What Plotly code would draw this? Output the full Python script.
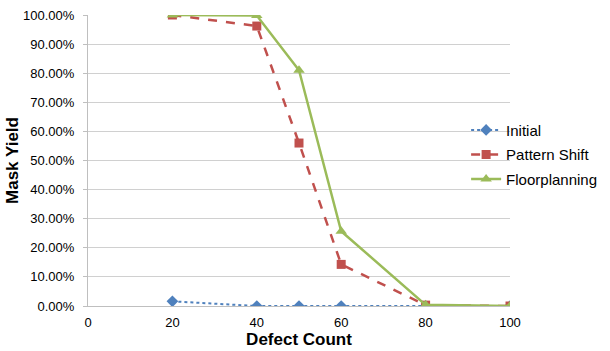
import plotly.graph_objects as go

defect_count = [20, 40, 50, 60, 80, 100]
initial = [0.016, 0.0, 0.0, 0.0, 0.0, 0.0]
pattern_shift = [1.0, 0.962, 0.56, 0.143, 0.003, 0.0]
floorplanning = [1.0, 0.998, 0.81, 0.257, 0.004, 0.0]

y_ticks = [i / 10 for i in range(11)]
x_ticks = [0, 20, 40, 60, 80, 100]

FONT = "Liberation Sans, Arial, sans-serif"

fig = go.Figure()
fig.add_trace(go.Scatter(
    x=defect_count, y=initial, name="Initial", mode="lines+markers",
    line=dict(color="#4F81BD", width=2, dash="dot"),
    marker=dict(symbol="diamond", size=9, color="#4F81BD"),
    legendgroup="a"))
fig.add_trace(go.Scatter(
    x=defect_count, y=pattern_shift, name="Pattern Shift", mode="lines+markers",
    line=dict(color="#C0504D", width=2.5, dash="dash"),
    marker=dict(symbol="square", size=9, color="#C0504D"),
    legendgroup="b"))
fig.add_trace(go.Scatter(
    x=defect_count, y=floorplanning, name="Floorplanning", mode="lines+markers",
    line=dict(color="#9BBB59", width=2.5),
    marker=dict(symbol="triangle-up", size=10, color="#9BBB59"),
    legendgroup="c"))

fig.update_layout(
    width=610, height=351,
    margin=dict(l=88, r=99, t=8, b=45),
    plot_bgcolor="white", paper_bgcolor="white",
    font=dict(family=FONT, size=13, color="black"),
    showlegend=True,
    legend=dict(x=0.896, xanchor="left", y=0.52, yanchor="middle",
                font=dict(size=15, family=FONT), bgcolor="rgba(0,0,0,0)",
                itemwidth=30, tracegroupgap=2, traceorder="grouped"),
    xaxis=dict(range=[0, 100], tickvals=x_ticks, showgrid=False,
               showline=True, linecolor="#BFBFBF", linewidth=1,
               zeroline=False, ticks="", tickfont=dict(size=13),
               ticklabelstandoff=4,
               title=dict(text="<b>Defect Count</b>", font=dict(size=17), standoff=0)),
    yaxis=dict(range=[0, 1], tickvals=y_ticks, tickformat=".2%",
               showgrid=True, gridcolor="#D0D0D0", gridwidth=1,
               showline=True, linecolor="#BFBFBF", linewidth=1,
               zeroline=False, ticks="outside", ticklen=4, tickcolor="#BFBFBF",
               tickfont=dict(size=13), ticklabelstandoff=6,
               title=dict(text="<b>Mask Yield</b>", font=dict(size=17), standoff=0)),
)

fig.write_html("out.html")
